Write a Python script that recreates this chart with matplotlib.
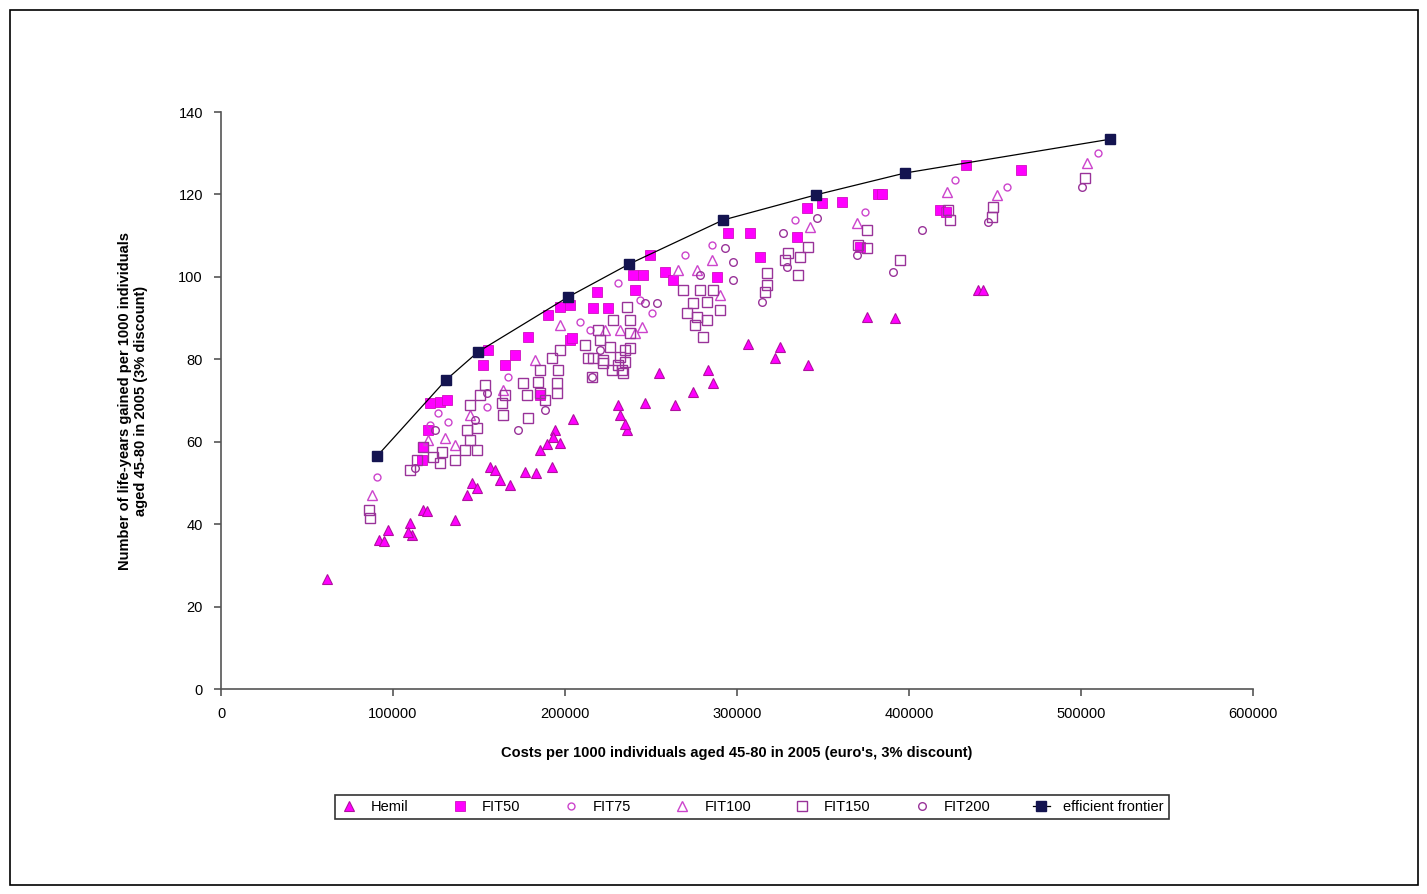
import matplotlib
matplotlib.use("Agg")
import matplotlib.pyplot as plt
from matplotlib.patches import Rectangle

plt.rcParams["font.family"] = ["Liberation Sans Narrow", "Liberation Sans", "DejaVu Sans"]

# costs (euro's) and life-years gained per strategy group
hemil_x = [61600, 91900, 94800, 97100, 109900, 111000, 108700, 117400, 119800, 136000,
           143000, 145900, 148800, 156400, 159300, 162200, 168000, 176700, 183100, 192400,
           185500, 189500, 194200, 197100, 193000, 204700, 230800, 232000, 236100, 234900,
           246500, 254700, 264000, 274400, 283100, 286000, 306400, 325000, 322100, 341300,
           375600, 391900, 440100, 443000]
hemil_y = [26.7, 36.1, 35.9, 38.6, 40.3, 37.4, 38.1, 43.4, 43.2, 41.0,
           47.1, 50.0, 48.8, 53.9, 53.1, 50.7, 49.5, 52.6, 52.4, 53.9,
           58.0, 59.4, 62.8, 59.7, 61.1, 65.5, 68.9, 66.5, 62.8, 64.3,
           69.4, 76.7, 68.9, 72.1, 77.4, 74.2, 83.7, 83.0, 80.3, 78.6,
           90.2, 90.0, 96.8, 96.8]

fit50_x = [121500, 127300, 131400, 120400, 117400, 116900, 152300, 155200, 165100, 170900,
           178500, 185500, 190100, 197100, 202900, 202900, 204100, 216300, 218600, 225000,
           239500, 240700, 245300, 249400, 258100, 262800, 288400, 294800, 307600, 313400,
           334900, 340700, 349400, 361100, 371500, 382000, 384300, 418000, 421500, 433100,
           465100]
fit50_y = [69.4, 69.6, 70.1, 62.8, 58.7, 55.6, 78.6, 82.2, 78.6, 81.0,
           85.4, 71.3, 90.7, 92.7, 84.7, 93.2, 85.2, 92.4, 96.3, 92.4,
           100.4, 96.8, 100.4, 105.3, 101.2, 99.2, 99.9, 110.6, 110.6, 104.8,
           109.7, 116.7, 117.9, 118.1, 107.2, 120.1, 120.1, 116.2, 115.7, 127.1,
           125.9]

fit75_x = [90700, 126200, 154700, 166900, 208700, 230800, 269800, 285500, 333700, 374400,
           426800, 457000, 509900, 132000, 250600, 121500, 214500, 243600]
fit75_y = [51.4, 67.0, 68.4, 75.7, 89.0, 98.5, 105.3, 107.7, 113.8, 115.7,
           123.5, 121.8, 130.0, 64.8, 91.2, 64.0, 87.1, 94.4]

fit100_x = [87800, 130200, 120400, 164000, 265700, 276700, 244800, 240700, 342400, 369800,
            422100, 451200, 503500, 285500, 182600, 136000, 223300, 232000, 197100, 144800,
            290100]
fit100_y = [47.1, 60.9, 60.4, 72.5, 101.6, 101.6, 87.8, 86.4, 112.1, 113.1,
            120.6, 119.8, 127.6, 104.1, 79.8, 59.2, 87.1, 87.1, 88.3, 66.5,
            95.6]

fit150_x = [86000, 86600, 114000, 117400, 123300, 128500, 127300, 141900, 148800, 144800,
            148800, 143000, 144800, 150600, 153500, 163400, 164000, 178500, 175600, 177900,
            185500, 184300, 185500, 195400, 195400, 195900, 192400, 213400, 215700, 222100,
            220400, 226200, 232000, 233100, 227300, 227900, 236000, 237800, 234900, 216300,
            222100, 230800, 237800, 234900, 233700, 268600, 278500, 282600, 274400, 282600,
            280200, 270900, 286000, 276700, 317400, 317400, 316300, 329700, 336600, 335500,
            341300, 375600, 370400, 375600, 394800, 422700, 423800, 448800, 448300, 502300,
            219200, 211600, 237800, 188400, 197100, 165100, 275600, 290100, 136000, 109900,
            327900]
fit150_y = [43.4, 41.5, 55.6, 58.7, 56.3, 57.5, 54.8, 58.0, 58.0, 60.4,
            63.3, 62.8, 68.9, 71.3, 73.8, 69.4, 66.5, 65.7, 74.2, 71.3,
            71.8, 74.5, 77.4, 71.8, 74.2, 77.4, 80.3, 80.3, 75.7, 79.8,
            84.7, 83.0, 80.5, 77.4, 77.4, 89.5, 92.7, 86.4, 82.2, 80.3,
            79.1, 78.6, 82.7, 79.3, 76.7, 96.8, 96.8, 93.9, 93.6, 89.5,
            85.4, 91.2, 96.8, 90.2, 100.9, 98.0, 96.3, 105.8, 104.8, 100.4,
            107.2, 111.4, 107.7, 107.0, 104.1, 116.2, 113.8, 116.9, 114.5, 124.0,
            87.1, 83.5, 89.5, 70.1, 82.2, 71.3, 88.3, 91.9, 55.6, 53.1,
            104.1]

fit200_x = [112800, 124400, 172700, 154700, 215700, 253500, 246500, 297700, 297700, 293000,
            314500, 329100, 346500, 369800, 390700, 407600, 445900, 500600, 326700, 220400,
            188400, 147700, 278500]
fit200_y = [53.6, 62.8, 62.8, 71.8, 75.7, 93.6, 93.6, 103.6, 99.2, 107.0,
            93.9, 102.4, 114.3, 105.3, 101.2, 111.4, 113.3, 121.8, 110.6, 82.2,
            67.7, 65.3, 100.4]

frontier_x = [90700, 130800, 149400, 201700, 237200, 291900, 345900, 397700, 516900]
frontier_y = [56.5, 75.0, 81.8, 95.1, 103.1, 113.8, 119.9, 125.2, 133.4]

fig = plt.figure(figsize=(14.27, 8.94), dpi=100)
ax = fig.add_axes([0.1549, 0.2293, 0.7232, 0.6454])

magenta = "#ff00ff"
purple = "#993399"
pink = "#cc44cc"

ax.plot(hemil_x, hemil_y, ls="none", marker="^", ms=7.5, mfc=magenta, mec="#b0109f",
        mew=0.8, label="Hemil")
ax.plot(fit50_x, fit50_y, ls="none", marker="s", ms=7, mfc=magenta, mec="#d010c0",
        mew=0.6, label="FIT50")
ax.plot(fit75_x, fit75_y, ls="none", marker="o", ms=5, mfc="none", mec=pink,
        mew=1.0, label="FIT75")
ax.plot(fit100_x, fit100_y, ls="none", marker="^", ms=6.5, mfc="none", mec=pink,
        mew=1.0, label="FIT100")
ax.plot(fit150_x, fit150_y, ls="none", marker="s", ms=7, mfc="none", mec=purple,
        mew=1.0, label="FIT150")
ax.plot(fit200_x, fit200_y, ls="none", marker="o", ms=5.5, mfc="none", mec=purple,
        mew=1.0, label="FIT200")
ax.plot(frontier_x, frontier_y, color="black", lw=0.9, marker="s", ms=7,
        mfc="#141450", mec="#141450", label="efficient frontier")

ax.set_xlim(0, 600000)
ax.set_ylim(0, 140)
ax.set_xticks(range(0, 600001, 100000))
ax.set_yticks(range(0, 141, 20))
for side in ("top", "right"):
    ax.spines[side].set_visible(False)
for side in ("left", "bottom"):
    ax.spines[side].set_color("#555555")
    ax.spines[side].set_linewidth(1.2)
ax.tick_params(direction="out", length=5, width=1.2, color="#555555",
               labelsize=10.5, pad=8)

ax.set_xlabel("Costs per 1000 individuals aged 45-80 in 2005 (euro's, 3% discount)",
              fontsize=10.5, fontweight="bold", labelpad=18)
ax.set_ylabel("Number of life-years gained per 1000 individuals\n"
              "aged 45-80 in 2005 (3% discount)",
              fontsize=10.5, fontweight="bold", labelpad=22)

leg = fig.legend(loc="center", bbox_to_anchor=(0.527, 0.097), ncol=7,
                 fontsize=10.5, frameon=True, fancybox=False, handlelength=1.2,
                 columnspacing=2.9, handletextpad=0.9, borderpad=0.35)
leg.get_frame().set_edgecolor("black")
leg.get_frame().set_linewidth(1.2)

# outer frame round the whole figure
fig.patches.append(Rectangle((0.007, 0.01), 0.987, 0.979, transform=fig.transFigure,
                             fill=False, edgecolor="black", linewidth=1.2))

fig.savefig("out.png", dpi=100)
